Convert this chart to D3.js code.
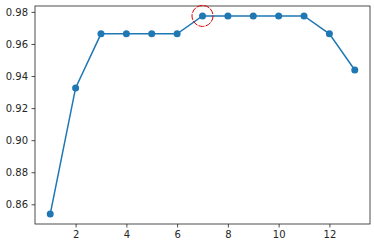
<!DOCTYPE html>
<html><head><meta charset="utf-8">
<script src="https://cdn.jsdelivr.net/npm/d3@7"></script>
<style>
body{margin:0;background:#fff;}
text{font-family:"DejaVu Sans",sans-serif;}
</style></head>
<body><svg id="c" width="374" height="244"></svg>
<script>
const xValues = [1,2,3,4,5,6,7,8,9,10,11,12,13];
const yValues = [0.8539,0.9326,0.9663,0.9663,0.9663,0.9663,0.9775,0.9775,0.9775,0.9775,0.9775,0.9663,0.9438];
const xTicks = [2,4,6,8,10,12];
const yTicks = [0.86,0.88,0.90,0.92,0.94,0.96,0.98];
const highlightIndex = 6;

const m = {left:35, right:370, top:6, bottom:224};
const svg = d3.select("#c");
const x = d3.scaleLinear().domain([0.4,13.6]).range([m.left,m.right]);
const ymin = d3.min(yValues), ymax = d3.max(yValues), pad=(ymax-ymin)*0.05;
const y = d3.scaleLinear().domain([ymin-pad,ymax+pad]).range([m.bottom,m.top]);

const xa = svg.append("g").attr("transform",`translate(0,${m.bottom})`)
  .call(d3.axisBottom(x).tickValues(xTicks).tickFormat(d3.format("d")).tickSize(3.5).tickPadding(3.5));
const ya = svg.append("g").attr("transform",`translate(${m.left},0)`)
  .call(d3.axisLeft(y).tickValues(yTicks).tickFormat(d3.format(".2f")).tickSize(3.5).tickPadding(3.5));
[xa,ya].forEach(a=>{a.select(".domain").remove();
  a.selectAll("line").attr("stroke","#222").attr("stroke-width",0.8);
  a.selectAll("text").attr("fill","#262626").style("font-size","10px").style("font-family","DejaVu Sans");});

svg.append("rect").attr("x",m.left).attr("y",m.top).attr("width",m.right-m.left).attr("height",m.bottom-m.top)
  .attr("fill","none").attr("stroke","#222").attr("stroke-width",0.8);

const line = d3.line().x((d,i)=>x(xValues[i])).y(d=>y(d));
svg.append("path").datum(yValues).attr("d",line).attr("fill","none").attr("stroke","#1f77b4").attr("stroke-width",1.5);
svg.selectAll("circle.pt").data(yValues).join("circle").attr("class","pt")
  .attr("cx",(d,i)=>x(xValues[i])).attr("cy",d=>y(d)).attr("r",3.5).attr("fill","#1f77b4");

svg.append("circle").attr("cx",x(xValues[highlightIndex])).attr("cy",y(yValues[highlightIndex])).attr("r",10.5)
  .attr("fill","none").attr("stroke","#e00000").attr("stroke-width",1).attr("stroke-dasharray","6,1.2");
</script></body></html>
